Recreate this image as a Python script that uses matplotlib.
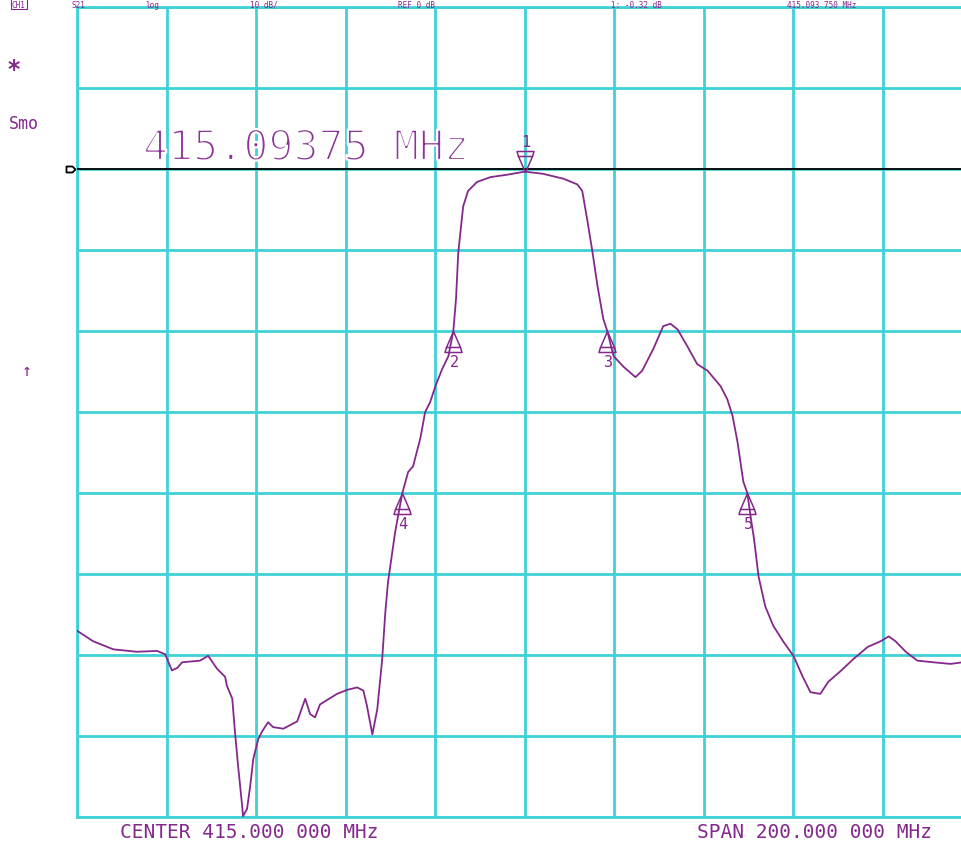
import numpy as np
import matplotlib
matplotlib.use("Agg")
import matplotlib.pyplot as plt
import matplotlib.patheffects as pe
from matplotlib.path import Path
from matplotlib.transforms import blended_transform_factory

# ---- measured S21 trace (log MAG) ----
freq_mhz = [
    315.0, 318.6, 323.1, 328.4, 332.9, 334.7, 336.2, 337.4, 338.5, 342.5,
    344.3, 346.3, 348.1, 348.5, 349.7, 350.3, 351.0, 351.9, 352.1, 353.0,
    353.7, 354.4, 355.5, 356.4, 357.7, 358.8, 361.1, 364.2, 366.0, 367.1,
    368.2, 369.3, 373.1, 375.4, 377.6, 379.0, 379.8, 381.0, 382.1, 383.2,
    383.9, 384.5, 386.1, 387.7, 389.0, 390.1, 391.7, 392.8, 393.9, 395.1,
    396.6, 398.0, 399.1, 399.7, 400.2, 401.3, 402.4, 404.4, 407.4, 411.2,
    415.1, 419.2, 423.7, 426.8, 427.9, 429.0, 430.2, 431.3, 432.6, 433.5,
    434.9, 437.1, 439.8, 441.3, 443.8, 446.0, 447.6, 449.2, 451.4, 453.6,
    455.9, 458.8, 460.3, 461.5, 462.6, 463.9, 464.8, 465.6, 466.3, 467.3,
    468.8, 470.6, 472.9, 475.1, 477.1, 478.9, 481.1, 482.9, 485.6, 488.5,
    491.7, 494.6, 496.4, 497.9, 500.2, 502.8, 506.4, 510.2, 512.9, 515.0,
]
s21_db = [
    -57.0, -58.3, -59.3, -59.6, -59.5, -59.9, -61.9, -61.6, -60.9, -60.7,
    -60.1, -61.7, -62.7, -63.8, -65.4, -69.5, -73.7, -78.6, -79.9, -79.0,
    -76.2, -72.8, -70.4, -69.4, -68.3, -68.9, -69.1, -68.2, -65.4, -67.3,
    -67.7, -66.1, -64.8, -64.3, -64.0, -64.4, -66.3, -69.8, -66.7, -60.5,
    -54.7, -51.0, -44.8, -40.0, -37.4, -36.7, -33.3, -30.0, -28.8, -26.8,
    -24.7, -23.1, -20.0, -16.0, -10.3, -4.6, -2.7, -1.6, -1.0, -0.7,
    -0.32, -0.6, -1.2, -1.9, -2.7, -6.2, -10.3, -14.4, -18.5, -20.0,
    -23.1, -24.4, -25.7, -24.9, -22.2, -19.4, -19.1, -19.8, -21.9, -24.1,
    -24.9, -26.8, -28.4, -30.5, -33.7, -38.6, -40.0, -43.2, -45.7, -50.3,
    -54.0, -56.4, -58.4, -60.1, -62.6, -64.6, -64.8, -63.3, -62.0, -60.5,
    -59.0, -58.3, -57.7, -58.3, -59.6, -60.7, -60.9, -61.1, -60.9, -61.0,
]

# ---- markers ----
marker_ids = ["1", "2", "3", "4", "5"]
marker_freq_mhz = [415.09375, 399.07, 433.51, 387.67, 464.81]
marker_db = [-0.32, -20.0, -20.0, -40.0, -40.0]

# ---- instrument settings ----
center_mhz = 415.0
span_mhz = 200.0
ref_db = 0.0
db_per_div = 10.0
ref_div_from_top = 2

PURPLE = "#84288c"
CYAN = "#40d0d8"
MONO = "DejaVu Sans Mono"

W, H, DPI = 962, 845, 100
fig = plt.figure(figsize=(W / DPI, H / DPI), dpi=DPI)
fig.patch.set_facecolor("white")

# graticule geometry (pixels)
gx0, gy_top, gy_bot, div_w = 77, 8, 818, 89.5
ax = fig.add_axes([gx0 / W, 1 - gy_bot / H, 10 * div_w / W, (gy_bot - gy_top) / H])
ax.set_facecolor("white")

fmin, fmax = center_mhz - span_mhz / 2, center_mhz + span_mhz / 2
ytop = ref_db + ref_div_from_top * db_per_div
ybot = ytop - 10 * db_per_div
ax.set_xlim(fmin, fmax)
ax.set_ylim(ybot, ytop)
ax.set_xticks(np.linspace(fmin, fmax, 11))
ax.set_yticks(np.linspace(ybot, ytop, 11))
ax.grid(True, color=CYAN, linewidth=2)
ax.set_axisbelow(True)
ax.tick_params(length=0, labelbottom=False, labelleft=False)
for sp in ax.spines.values():
    sp.set_color(CYAN)
    sp.set_linewidth(2)

# reference level line and its pointer
ax.axhline(ref_db, color="black", linewidth=1.3, zorder=3)
ref_ptr = Path([(-2, 0), (-5, 3), (-11, 3), (-11, -3), (-5, -3), (-2, 0)],
               [Path.MOVETO] + [Path.LINETO] * 4 + [Path.CLOSEPOLY])
bt = blended_transform_factory(ax.transAxes, ax.transData)
ax.plot([0], [ref_db], transform=bt, linestyle="none", marker=ref_ptr,
        ms=2 * 11 * 72 / DPI, mfc="none", mec="black", mew=1.3, clip_on=False)

# trace
ax.plot(freq_mhz, s21_db, color=PURPLE, linewidth=1.3, zorder=4)


def tri_marker(up):
    s = -1 if up else 1
    verts = [(0, 0), (-7, 16 * s), (7, 16 * s), (0, 0),
             (-7, 16 * s), (-8.5, 21 * s), (8.5, 21 * s), (7, 16 * s)]
    codes = [Path.MOVETO, Path.LINETO, Path.LINETO, Path.CLOSEPOLY,
             Path.MOVETO, Path.LINETO, Path.LINETO, Path.LINETO]
    return Path(verts, codes)


for i, (mid, f, v) in enumerate(zip(marker_ids, marker_freq_mhz, marker_db)):
    up = i > 0
    ax.plot([f], [v], linestyle="none", marker=tri_marker(up),
            ms=2 * 21 * 72 / DPI, mfc="none", mec=PURPLE, mew=1.1,
            zorder=5, clip_on=False)
    ax.annotate(mid, (f, v), xytext=(1, -31 if up else 30),
                textcoords="offset pixels", ha="center", va="center",
                family=MONO, fontsize=11, color=PURPLE, zorder=6)


def px_text(x, y, s, **kw):
    kw.setdefault("family", MONO)
    kw.setdefault("color", PURPLE)
    return fig.text(x / W, 1 - y / H, s, **kw)


def fmt_freq(v):
    s = f"{v:.6f}"
    return s[:-3] + " " + s[-3:]


# active marker readout, drawn with thin strokes
thin = [pe.Stroke(linewidth=1.6, foreground="white")]
px_text(143, 149, f"{marker_freq_mhz[0]:.5f} MHz", fontsize=30, va="center",
        color="#8c3496", path_effects=thin)

# footer
px_text(120, 833, f"CENTER {fmt_freq(center_mhz)} MHz", fontsize=14, va="center")
px_text(697, 833, f"SPAN {fmt_freq(span_mhz)} MHz", fontsize=14, va="center")

# header line squeezed into the strip above the graticule
hdr_y = 0.5
hdr_fs = 5.5
px_text(12, hdr_y, "CH1", fontsize=hdr_fs, va="top",
        bbox=dict(boxstyle="square,pad=0.1", fc="none", ec=PURPLE, lw=0.8))
px_text(71, hdr_y, "S21", fontsize=hdr_fs, va="top")
px_text(145, hdr_y, "log", fontsize=hdr_fs, va="top")
px_text(250, hdr_y, f"{db_per_div:.0f} dB/", fontsize=hdr_fs, va="top")
px_text(398, hdr_y, f"REF {ref_db:.0f} dB", fontsize=hdr_fs, va="top")
px_text(611, hdr_y, f"1: {marker_db[0]:.2f} dB", fontsize=hdr_fs, va="top")
px_text(787, hdr_y, f"{fmt_freq(marker_freq_mhz[0])} MHz", fontsize=hdr_fs, va="top")

# left annotations
px_text(14, 70, "*", fontsize=17, ha="center", va="center", fontweight="bold")
px_text(9, 124, "Smo", fontsize=12, va="center")
px_text(27, 371, "\u2191", fontsize=12, ha="center", va="center")

fig.savefig("out.png", dpi=DPI, facecolor="white")
